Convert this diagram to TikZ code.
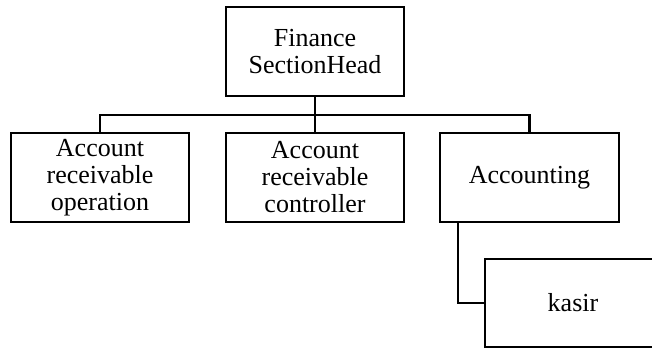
\documentclass[tikz,border=0pt]{standalone}
\usepackage{fontspec}
\setmainfont{Liberation Serif}
\begin{document}
\begin{tikzpicture}[x=1pt,y=1pt,
  box/.style={draw=black, line width=2.2pt, rectangle, minimum width=178pt, minimum height=89pt, align=center, inner sep=0pt, font=\fontsize{26}{27}\selectfont},
  link/.style={draw=black, line width=2.2pt}]
\useasboundingbox (0,0) rectangle (652,-349);
\node[box] (head) at (315,-51.5) {Finance\\SectionHead};
\node[box] (aro) at (100,-177.5) {Account\\receivable\\operation};
\node[box] (arc) at (315,-177.5) {Account\\receivable\\controller};
\node[box, minimum width=179pt] (acc) at (529.5,-177.5) {Accounting};
\node[box, minimum width=176pt, minimum height=88pt] (kasir) at (573,-303) {kasir};
\coordinate (bus) at (315,-115);
\path[link] (head.south) -- (bus);
\path[link] (aro.north) |- (bus) -| (acc.north);
\path[link] (bus) -- (arc.north);
\path[link] ([xshift=19pt]acc.south west) |- (kasir.west);
\end{tikzpicture}
\end{document}
